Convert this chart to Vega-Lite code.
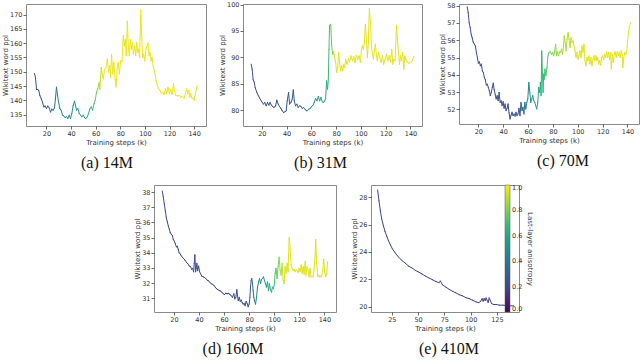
{
  "$schema": "https://vega.github.io/schema/vega-lite/v6.json",
  "background": "white",
  "padding": {"left": 0, "top": 1, "right": 0, "bottom": 0},
  "datasets": {
    "A": [
      {"s":10.2,"p":149.4,"a":0.25},{"s":11.0,"p":148.1,"a":0.25},{"s":11.9,"p":143.8,"a":0.25},{"s":12.9,"p":143.8,"a":0.25},{"s":13.8,"p":143.3,"a":0.25},{"s":14.6,"p":141.7,"a":0.25},{"s":15.7,"p":140.6,"a":0.25},{"s":16.7,"p":139.4,"a":0.26},{"s":17.8,"p":137.7,"a":0.26},{"s":18.9,"p":138.0,"a":0.26},{"s":20.0,"p":137.1,"a":0.27},{"s":21.1,"p":138.0,"a":0.27},{"s":22.2,"p":137.3,"a":0.28},{"s":23.3,"p":135.9,"a":0.28},{"s":24.3,"p":136.9,"a":0.3},{"s":25.4,"p":136.5,"a":0.32},{"s":26.5,"p":137.3,"a":0.35},{"s":27.3,"p":140.6,"a":0.38},{"s":28.1,"p":144.6,"a":0.4},{"s":29.0,"p":141.7,"a":0.42},{"s":29.8,"p":139.4,"a":0.43},{"s":30.9,"p":137.1,"a":0.45},{"s":31.9,"p":136.5,"a":0.46},{"s":33.0,"p":134.8,"a":0.47},{"s":34.1,"p":134.5,"a":0.47},{"s":35.2,"p":133.9,"a":0.48},{"s":36.3,"p":134.4,"a":0.48},{"s":37.4,"p":133.6,"a":0.49},{"s":38.5,"p":134.8,"a":0.49},{"s":39.5,"p":133.6,"a":0.5},{"s":40.6,"p":135.4,"a":0.5},{"s":41.7,"p":138.2,"a":0.5},{"s":42.8,"p":139.7,"a":0.5},{"s":43.6,"p":138.2,"a":0.5},{"s":44.4,"p":136.5,"a":0.52},{"s":45.5,"p":137.1,"a":0.52},{"s":46.6,"p":135.4,"a":0.53},{"s":47.7,"p":134.8,"a":0.54},{"s":48.8,"p":134.2,"a":0.55},{"s":49.9,"p":134.8,"a":0.56},{"s":51.0,"p":133.9,"a":0.57},{"s":52.0,"p":133.6,"a":0.58},{"s":53.1,"p":134.2,"a":0.59},{"s":54.2,"p":135.4,"a":0.6},{"s":55.3,"p":137.1,"a":0.62},{"s":56.4,"p":137.7,"a":0.65},{"s":57.5,"p":136.5,"a":0.68},{"s":58.6,"p":138.8,"a":0.72},{"s":59.6,"p":140.0,"a":0.76},{"s":60.7,"p":142.9,"a":0.8},{"s":61.8,"p":144.2,"a":0.85},{"s":62.9,"p":146.3,"a":0.9},{"s":63.4,"p":143.8,"a":0.92},{"s":64.5,"p":151.5,"a":0.94},{"s":65.3,"p":149.2,"a":0.95},
      {"s":66.2,"p":147.5,"a":0.97},{"s":67.2,"p":150.9,"a":0.97},{"s":68.3,"p":151.5,"a":0.97},{"s":69.4,"p":154.4,"a":0.97},{"s":70.5,"p":149.8,"a":0.97},{"s":71.3,"p":152.1,"a":0.97},{"s":72.1,"p":148.1,"a":0.97},{"s":72.9,"p":156.1,"a":0.97},{"s":73.8,"p":149.2,"a":0.97},{"s":74.8,"p":153.3,"a":0.97},{"s":75.7,"p":147.5,"a":0.97},{"s":76.5,"p":144.6,"a":0.97},{"s":77.6,"p":151.5,"a":0.97},{"s":78.4,"p":153.3,"a":0.97},{"s":79.2,"p":149.2,"a":0.97},{"s":80.3,"p":153.8,"a":0.97},{"s":81.4,"p":153.5,"a":0.97},{"s":82.4,"p":162.7,"a":0.97},{"s":83.3,"p":159.0,"a":0.97},{"s":84.1,"p":161.3,"a":0.97},{"s":84.9,"p":155.6,"a":0.97},{"s":85.7,"p":167.7,"a":0.97},{"s":86.5,"p":159.0,"a":0.97},{"s":87.3,"p":155.6,"a":0.97},{"s":88.1,"p":161.3,"a":0.97},{"s":89.0,"p":157.9,"a":0.97},{"s":89.8,"p":160.2,"a":0.97},{"s":90.6,"p":156.1,"a":0.97},{"s":91.7,"p":159.0,"a":0.97},{"s":92.5,"p":155.6,"a":0.97},{"s":93.3,"p":160.2,"a":0.97},{"s":94.1,"p":156.7,"a":0.97},{"s":94.9,"p":157.9,"a":0.97},{"s":95.7,"p":155.0,"a":0.97},{"s":96.6,"p":171.7,"a":0.97},{"s":97.4,"p":162.5,"a":0.97},{"s":98.2,"p":155.0,"a":0.97},{"s":99.0,"p":156.1,"a":0.97},{"s":99.8,"p":153.8,"a":0.97},{"s":100.9,"p":157.9,"a":0.97},{"s":101.7,"p":159.0,"a":0.97},{"s":102.5,"p":160.0,"a":0.97},{"s":103.3,"p":155.6,"a":0.97},{"s":104.2,"p":156.7,"a":0.97},{"s":105.0,"p":153.8,"a":0.97},{"s":105.8,"p":155.0,"a":0.97},{"s":106.6,"p":152.1,"a":0.97},{"s":107.4,"p":150.9,"a":0.97},{"s":108.2,"p":149.2,"a":0.97},{"s":109.1,"p":146.9,"a":0.97},{"s":110.1,"p":145.2,"a":0.97},{"s":111.2,"p":144.0,"a":0.97},{"s":112.3,"p":143.4,"a":0.97},{"s":113.4,"p":142.3,"a":0.97},{"s":114.5,"p":142.9,"a":0.97},{"s":115.6,"p":142.0,"a":0.97},{"s":116.7,"p":144.0,"a":0.97},{"s":117.7,"p":142.3,"a":0.97},{"s":118.8,"p":144.6,"a":0.97},{"s":119.9,"p":142.3,"a":0.97},{"s":121.0,"p":143.8,"a":0.97},{"s":122.1,"p":142.0,"a":0.97},{"s":123.2,"p":145.8,"a":0.97},{"s":124.0,"p":143.4,"a":0.97},{"s":125.1,"p":141.7,"a":0.97},{"s":126.4,"p":141.5,"a":0.97},{"s":127.8,"p":141.7,"a":0.97},{"s":129.1,"p":141.1,"a":0.97},{"s":130.5,"p":141.4,"a":0.97},{"s":131.9,"p":140.8,"a":0.97},{"s":133.2,"p":142.9,"a":0.97},{"s":134.0,"p":144.0,"a":0.97},{"s":134.8,"p":142.3,"a":0.97},{"s":135.7,"p":143.4,"a":0.97},{"s":136.5,"p":141.1,"a":0.97},{"s":137.3,"p":142.3,"a":0.97},{"s":138.1,"p":140.8,"a":0.97},{"s":139.2,"p":140.6,"a":0.97},{"s":140.0,"p":140.0,"a":0.97},{"s":141.1,"p":142.3,"a":0.97},{"s":142.2,"p":144.6,"a":0.97},{"s":143.0,"p":145.2,"a":0.97}
    ],
    "B": [
      {"s":11.4,"p":88.70,"a":0.25},{"s":12.2,"p":87.75,"a":0.25},{"s":13.0,"p":85.74,"a":0.25},{"s":13.8,"p":85.36,"a":0.25},{"s":14.6,"p":84.29,"a":0.25},{"s":16.0,"p":83.34,"a":0.25},{"s":17.3,"p":82.71,"a":0.25},{"s":18.7,"p":82.08,"a":0.25},{"s":20.0,"p":81.58,"a":0.25},{"s":21.3,"p":81.14,"a":0.25},{"s":22.4,"p":81.45,"a":0.25},{"s":23.5,"p":80.82,"a":0.25},{"s":24.6,"p":81.45,"a":0.25},{"s":25.7,"p":80.95,"a":0.25},{"s":26.7,"p":81.45,"a":0.25},{"s":27.8,"p":80.95,"a":0.25},{"s":28.9,"p":80.63,"a":0.25},{"s":30.0,"p":80.51,"a":0.25},{"s":31.1,"p":80.82,"a":0.25},{"s":32.1,"p":81.89,"a":0.25},{"s":33.2,"p":81.14,"a":0.25},{"s":34.3,"p":80.70,"a":0.25},{"s":35.4,"p":80.32,"a":0.25},{"s":36.5,"p":79.88,"a":0.25},{"s":37.5,"p":79.56,"a":0.25},{"s":38.6,"p":79.69,"a":0.26},{"s":39.7,"p":79.88,"a":0.26},{"s":40.5,"p":81.77,"a":0.27},{"s":41.6,"p":83.34,"a":0.27},{"s":42.4,"p":81.14,"a":0.27},{"s":43.5,"p":81.45,"a":0.28},{"s":44.5,"p":82.08,"a":0.28},{"s":45.4,"p":83.85,"a":0.28},{"s":46.2,"p":81.77,"a":0.29},{"s":47.2,"p":80.82,"a":0.3},{"s":48.3,"p":81.14,"a":0.31},{"s":49.4,"p":80.51,"a":0.32},{"s":50.5,"p":80.82,"a":0.33},{"s":51.6,"p":80.70,"a":0.34},{"s":52.6,"p":80.32,"a":0.35},{"s":53.7,"p":80.51,"a":0.36},{"s":55.1,"p":80.07,"a":0.38},{"s":56.4,"p":79.88,"a":0.4},{"s":57.8,"p":80.19,"a":0.42},{"s":59.1,"p":80.32,"a":0.44},{"s":60.2,"p":80.70,"a":0.46},{"s":61.3,"p":80.95,"a":0.48},{"s":62.3,"p":81.45,"a":0.5},{"s":63.4,"p":82.21,"a":0.52},{"s":64.5,"p":81.77,"a":0.54},{"s":65.6,"p":82.59,"a":0.55},{"s":66.7,"p":81.77,"a":0.56},{"s":67.7,"p":82.40,"a":0.57},{"s":68.8,"p":81.58,"a":0.58},{"s":69.9,"p":81.45,"a":0.59},{"s":70.7,"p":81.77,"a":0.6},{"s":71.5,"p":82.21,"a":0.61},{"s":72.3,"p":85.55,"a":0.63},{"s":73.1,"p":83.97,"a":0.65},{"s":73.7,"p":85.86,"a":0.67},{"s":74.2,"p":91.53,"a":0.7},{"s":74.7,"p":96.07,"a":0.73},{"s":75.6,"p":96.26,"a":0.76},{"s":76.4,"p":92.16,"a":0.8},{"s":77.2,"p":90.59,"a":0.85},{"s":78.0,"p":91.03,"a":0.9},
      {"s":78.8,"p":89.96,"a":0.95},{"s":79.6,"p":89.01,"a":0.96},{"s":80.4,"p":87.12,"a":0.96},{"s":81.2,"p":88.07,"a":0.96},{"s":82.0,"p":90.90,"a":0.96},{"s":82.8,"p":89.01,"a":0.96},{"s":83.6,"p":87.44,"a":0.96},{"s":84.5,"p":88.38,"a":0.96},{"s":85.3,"p":87.44,"a":0.96},{"s":86.1,"p":88.70,"a":0.96},{"s":86.9,"p":88.07,"a":0.96},{"s":87.7,"p":89.64,"a":0.96},{"s":88.8,"p":88.70,"a":0.96},{"s":89.9,"p":89.77,"a":0.96},{"s":90.9,"p":89.14,"a":0.96},{"s":92.0,"p":90.27,"a":0.96},{"s":93.1,"p":89.33,"a":0.96},{"s":94.2,"p":90.15,"a":0.96},{"s":95.2,"p":89.01,"a":0.96},{"s":96.3,"p":90.40,"a":0.96},{"s":97.4,"p":89.64,"a":0.96},{"s":98.5,"p":90.27,"a":0.96},{"s":99.6,"p":89.01,"a":0.96},{"s":100.4,"p":91.53,"a":0.96},{"s":101.2,"p":92.16,"a":0.96},{"s":102.0,"p":91.53,"a":0.96},{"s":102.8,"p":92.79,"a":0.96},{"s":103.6,"p":96.26,"a":0.96},{"s":104.4,"p":93.42,"a":0.96},{"s":105.2,"p":89.96,"a":0.96},{"s":106.0,"p":92.79,"a":0.96},{"s":106.8,"p":99.22,"a":0.96},{"s":107.7,"p":96.58,"a":0.96},{"s":108.5,"p":92.16,"a":0.96},{"s":109.3,"p":90.59,"a":0.96},{"s":110.1,"p":89.64,"a":0.96},{"s":110.9,"p":91.22,"a":0.96},{"s":111.7,"p":92.48,"a":0.96},{"s":112.5,"p":90.27,"a":0.96},{"s":113.3,"p":89.33,"a":0.96},{"s":114.1,"p":90.90,"a":0.96},{"s":115.2,"p":89.96,"a":0.96},{"s":116.3,"p":89.01,"a":0.96},{"s":117.4,"p":90.27,"a":0.96},{"s":118.4,"p":88.70,"a":0.96},{"s":119.5,"p":89.64,"a":0.96},{"s":120.6,"p":90.59,"a":0.96},{"s":121.7,"p":89.33,"a":0.96},{"s":122.8,"p":90.27,"a":0.96},{"s":123.8,"p":89.14,"a":0.96},{"s":124.9,"p":91.53,"a":0.96},{"s":125.7,"p":88.70,"a":0.96},{"s":126.5,"p":89.64,"a":0.96},{"s":127.6,"p":89.33,"a":0.96},{"s":128.7,"p":96.07,"a":0.96},{"s":129.5,"p":93.42,"a":0.96},{"s":130.3,"p":90.90,"a":0.96},{"s":131.1,"p":88.70,"a":0.96},{"s":131.9,"p":90.27,"a":0.96},{"s":132.7,"p":89.33,"a":0.96},{"s":133.8,"p":90.90,"a":0.96},{"s":134.6,"p":87.75,"a":0.96},{"s":135.4,"p":90.27,"a":0.96},{"s":136.2,"p":89.64,"a":0.96},{"s":137.3,"p":89.14,"a":0.96},{"s":138.7,"p":88.89,"a":0.96},{"s":140.0,"p":89.01,"a":0.96},{"s":141.4,"p":89.33,"a":0.96},{"s":142.7,"p":90.15,"a":0.96}
    ],
    "C": [
      {"s":11.0,"p":57.94,"a":0.23},{"s":11.8,"p":57.60,"a":0.23},{"s":12.6,"p":57.02,"a":0.23},{"s":13.4,"p":56.73,"a":0.23},{"s":14.2,"p":56.35,"a":0.23},{"s":15.0,"p":56.15,"a":0.23},{"s":15.8,"p":55.90,"a":0.23},{"s":16.8,"p":55.77,"a":0.23},{"s":17.6,"p":55.67,"a":0.23},{"s":18.4,"p":55.29,"a":0.23},{"s":19.2,"p":55.00,"a":0.23},{"s":20.0,"p":54.67,"a":0.23},{"s":20.8,"p":54.75,"a":0.23},{"s":21.6,"p":54.52,"a":0.23},{"s":22.4,"p":54.62,"a":0.23},{"s":23.2,"p":54.23,"a":0.23},{"s":24.0,"p":54.13,"a":0.23},{"s":24.8,"p":53.85,"a":0.23},{"s":25.6,"p":53.71,"a":0.23},{"s":26.4,"p":53.40,"a":0.23},{"s":27.2,"p":53.46,"a":0.23},{"s":28.0,"p":53.27,"a":0.23},{"s":28.8,"p":53.08,"a":0.23},{"s":29.6,"p":52.79,"a":0.23},{"s":30.4,"p":52.98,"a":0.23},{"s":31.2,"p":53.27,"a":0.23},{"s":32.0,"p":53.52,"a":0.23},{"s":32.7,"p":53.13,"a":0.23},{"s":33.5,"p":52.88,"a":0.23},{"s":34.3,"p":52.60,"a":0.23},{"s":35.1,"p":52.79,"a":0.23},{"s":35.9,"p":52.50,"a":0.23},{"s":36.7,"p":52.98,"a":0.23},{"s":37.5,"p":52.40,"a":0.23},{"s":38.3,"p":52.50,"a":0.23},{"s":39.1,"p":52.21,"a":0.23},{"s":39.9,"p":52.44,"a":0.23},{"s":40.7,"p":52.06,"a":0.23},{"s":41.5,"p":52.31,"a":0.23},{"s":42.3,"p":51.92,"a":0.23},{"s":43.1,"p":52.06,"a":0.23},{"s":43.9,"p":52.31,"a":0.23},{"s":44.7,"p":51.79,"a":0.23},{"s":45.5,"p":51.44,"a":0.23},{"s":46.3,"p":51.67,"a":0.23},{"s":47.1,"p":51.83,"a":0.23},{"s":47.9,"p":51.63,"a":0.23},{"s":48.7,"p":51.73,"a":0.23},{"s":49.5,"p":51.60,"a":0.23},{"s":50.3,"p":51.83,"a":0.24},{"s":51.1,"p":51.63,"a":0.24},{"s":51.9,"p":51.73,"a":0.25},{"s":52.7,"p":52.06,"a":0.26},{"s":53.5,"p":51.63,"a":0.28},{"s":54.3,"p":52.40,"a":0.3},{"s":55.1,"p":51.92,"a":0.33},{"s":55.9,"p":52.12,"a":0.36},{"s":56.7,"p":51.73,"a":0.38},{"s":57.4,"p":52.40,"a":0.4},{"s":58.2,"p":52.02,"a":0.42},{"s":59.0,"p":52.40,"a":0.44},{"s":59.8,"p":52.60,"a":0.46},{"s":60.6,"p":53.56,"a":0.48},{"s":61.4,"p":52.98,"a":0.5},{"s":62.2,"p":52.40,"a":0.52},{"s":63.0,"p":52.60,"a":0.54},{"s":63.8,"p":52.79,"a":0.55},{"s":64.6,"p":52.50,"a":0.56},{"s":65.4,"p":52.40,"a":0.57},{"s":66.2,"p":52.21,"a":0.58},{"s":67.0,"p":52.02,"a":0.59},{"s":67.8,"p":52.40,"a":0.6},{"s":68.6,"p":53.27,"a":0.61},{"s":69.4,"p":52.98,"a":0.62},{"s":69.9,"p":53.56,"a":0.63},{"s":70.5,"p":52.79,"a":0.64},{"s":71.0,"p":55.38,"a":0.65},{"s":71.5,"p":54.13,"a":0.66},{"s":72.1,"p":52.98,"a":0.67},{"s":72.6,"p":54.04,"a":0.68},{"s":73.1,"p":53.75,"a":0.69},{"s":73.6,"p":54.33,"a":0.7},{"s":74.4,"p":53.94,"a":0.72},{"s":75.2,"p":54.42,"a":0.74},{"s":76.0,"p":55.10,"a":0.76},{"s":76.8,"p":55.29,"a":0.77},{"s":77.9,"p":55.33,"a":0.78},{"s":79.0,"p":55.19,"a":0.79},{"s":79.8,"p":55.29,"a":0.8},{"s":80.6,"p":55.10,"a":0.81},{"s":81.4,"p":55.33,"a":0.82},{"s":82.2,"p":55.77,"a":0.83},{"s":82.9,"p":55.10,"a":0.84},{"s":83.7,"p":55.33,"a":0.85},{"s":84.5,"p":55.10,"a":0.85},{"s":85.3,"p":55.33,"a":0.86},{"s":86.1,"p":55.29,"a":0.86},{"s":86.9,"p":55.48,"a":0.87},{"s":87.7,"p":55.19,"a":0.87},{"s":88.5,"p":55.67,"a":0.88},{"s":89.1,"p":56.25,"a":0.88},{"s":89.9,"p":55.87,"a":0.88},{"s":90.6,"p":55.38,"a":0.89},{"s":91.4,"p":56.06,"a":0.89},{"s":92.2,"p":56.44,"a":0.89},{"s":93.0,"p":56.06,"a":0.9},{"s":93.8,"p":55.58,"a":0.9},{"s":94.6,"p":56.15,"a":0.91},{"s":95.4,"p":55.87,"a":0.92},{"s":96.2,"p":55.96,"a":0.93},{"s":97.0,"p":55.67,"a":0.94},{"s":97.8,"p":55.38,"a":0.95},
      {"s":98.6,"p":55.00,"a":0.96},{"s":99.4,"p":55.29,"a":0.96},{"s":100.2,"p":54.90,"a":0.96},{"s":101.0,"p":55.10,"a":0.96},{"s":101.8,"p":55.38,"a":0.96},{"s":102.6,"p":55.00,"a":0.96},{"s":103.4,"p":55.67,"a":0.96},{"s":104.2,"p":55.29,"a":0.96},{"s":105.0,"p":55.77,"a":0.96},{"s":105.8,"p":54.81,"a":0.96},{"s":106.6,"p":54.52,"a":0.96},{"s":107.4,"p":55.00,"a":0.96},{"s":108.2,"p":54.81,"a":0.96},{"s":109.0,"p":55.10,"a":0.96},{"s":109.8,"p":54.62,"a":0.96},{"s":110.6,"p":55.00,"a":0.96},{"s":111.4,"p":54.52,"a":0.96},{"s":112.2,"p":54.90,"a":0.96},{"s":113.0,"p":55.10,"a":0.96},{"s":113.8,"p":54.81,"a":0.96},{"s":114.6,"p":55.10,"a":0.96},{"s":115.4,"p":54.81,"a":0.96},{"s":116.1,"p":55.00,"a":0.96},{"s":116.9,"p":54.62,"a":0.96},{"s":117.7,"p":54.81,"a":0.96},{"s":118.5,"p":54.56,"a":0.96},{"s":119.3,"p":55.00,"a":0.96},{"s":120.1,"p":55.10,"a":0.96},{"s":120.9,"p":54.90,"a":0.96},{"s":121.7,"p":55.19,"a":0.96},{"s":122.5,"p":55.00,"a":0.96},{"s":123.3,"p":55.33,"a":0.96},{"s":124.1,"p":55.00,"a":0.96},{"s":124.9,"p":55.29,"a":0.96},{"s":125.7,"p":54.87,"a":0.96},{"s":126.5,"p":55.29,"a":0.96},{"s":127.0,"p":54.33,"a":0.96},{"s":127.8,"p":55.19,"a":0.96},{"s":128.6,"p":54.71,"a":0.96},{"s":129.4,"p":55.19,"a":0.96},{"s":130.2,"p":55.33,"a":0.96},{"s":131.0,"p":55.00,"a":0.96},{"s":131.8,"p":55.33,"a":0.96},{"s":132.6,"p":55.10,"a":0.96},{"s":133.4,"p":55.29,"a":0.96},{"s":134.2,"p":55.00,"a":0.96},{"s":135.0,"p":55.38,"a":0.96},{"s":135.8,"p":55.19,"a":0.96},{"s":136.3,"p":54.42,"a":0.96},{"s":137.1,"p":55.00,"a":0.96},{"s":137.9,"p":55.29,"a":0.96},{"s":138.7,"p":55.19,"a":0.96},{"s":139.5,"p":55.38,"a":0.96},{"s":140.0,"p":55.87,"a":0.96},{"s":140.8,"p":56.44,"a":0.96},{"s":141.6,"p":56.83,"a":0.96},{"s":142.7,"p":57.02,"a":0.96}
    ],
    "D": [
      {"s":10.7,"p":38.07,"a":0.23},{"s":11.5,"p":37.69,"a":0.23},{"s":12.3,"p":37.24,"a":0.23},{"s":13.1,"p":36.79,"a":0.23},{"s":13.9,"p":36.34,"a":0.23},{"s":14.7,"p":36.05,"a":0.23},{"s":15.5,"p":35.78,"a":0.23},{"s":16.3,"p":35.56,"a":0.23},{"s":17.1,"p":35.33,"a":0.23},{"s":17.9,"p":35.22,"a":0.23},{"s":18.7,"p":35.15,"a":0.23},{"s":19.5,"p":34.88,"a":0.23},{"s":20.3,"p":34.77,"a":0.23},{"s":21.1,"p":34.61,"a":0.23},{"s":21.9,"p":34.39,"a":0.23},{"s":22.7,"p":34.43,"a":0.23},{"s":23.5,"p":34.21,"a":0.23},{"s":24.2,"p":33.99,"a":0.23},{"s":25.0,"p":33.94,"a":0.23},{"s":25.8,"p":33.81,"a":0.23},{"s":26.6,"p":33.72,"a":0.23},{"s":27.4,"p":33.65,"a":0.23},{"s":28.2,"p":33.58,"a":0.23},{"s":29.0,"p":33.49,"a":0.23},{"s":30.1,"p":33.36,"a":0.23},{"s":31.2,"p":33.27,"a":0.23},{"s":32.2,"p":33.13,"a":0.23},{"s":33.3,"p":33.09,"a":0.23},{"s":34.1,"p":32.91,"a":0.23},{"s":34.9,"p":32.98,"a":0.23},{"s":35.7,"p":32.75,"a":0.23},{"s":36.2,"p":33.31,"a":0.23},{"s":36.7,"p":33.87,"a":0.23},{"s":37.3,"p":32.75,"a":0.23},{"s":37.8,"p":32.98,"a":0.23},{"s":38.3,"p":33.31,"a":0.23},{"s":38.9,"p":32.82,"a":0.23},{"s":39.7,"p":33.13,"a":0.23},{"s":40.5,"p":32.75,"a":0.23},{"s":41.2,"p":32.64,"a":0.23},{"s":42.3,"p":32.46,"a":0.23},{"s":43.4,"p":32.42,"a":0.23},{"s":44.4,"p":32.37,"a":0.23},{"s":45.5,"p":32.30,"a":0.23},{"s":46.6,"p":32.19,"a":0.23},{"s":47.6,"p":32.15,"a":0.23},{"s":48.7,"p":32.06,"a":0.23},{"s":49.7,"p":31.97,"a":0.23},{"s":50.8,"p":31.92,"a":0.23},{"s":51.9,"p":31.86,"a":0.23},{"s":52.9,"p":31.74,"a":0.23},{"s":54.0,"p":31.63,"a":0.23},{"s":55.1,"p":31.57,"a":0.23},{"s":56.1,"p":31.52,"a":0.23},{"s":57.2,"p":31.48,"a":0.23},{"s":58.2,"p":31.41,"a":0.23},{"s":59.3,"p":31.30,"a":0.23},{"s":60.4,"p":31.25,"a":0.23},{"s":61.4,"p":31.34,"a":0.23},{"s":62.5,"p":31.30,"a":0.23},{"s":63.6,"p":31.34,"a":0.23},{"s":64.6,"p":31.25,"a":0.23},{"s":65.7,"p":31.18,"a":0.23},{"s":66.7,"p":31.07,"a":0.23},{"s":67.8,"p":31.30,"a":0.23},{"s":68.6,"p":30.96,"a":0.23},{"s":69.4,"p":31.07,"a":0.23},{"s":70.2,"p":31.57,"a":0.23},{"s":70.7,"p":31.18,"a":0.23},{"s":71.3,"p":30.85,"a":0.23},{"s":72.1,"p":31.07,"a":0.23},{"s":72.9,"p":30.80,"a":0.23},{"s":73.7,"p":30.89,"a":0.23},{"s":74.4,"p":30.74,"a":0.23},{"s":75.2,"p":30.62,"a":0.23},{"s":76.0,"p":30.67,"a":0.23},{"s":76.8,"p":30.51,"a":0.23},{"s":77.6,"p":30.80,"a":0.23},{"s":78.4,"p":30.67,"a":0.23},{"s":79.2,"p":30.44,"a":0.23},{"s":80.0,"p":30.62,"a":0.24},{"s":80.6,"p":31.07,"a":0.26},{"s":81.1,"p":31.74,"a":0.28},{"s":81.6,"p":32.19,"a":0.3},{"s":82.1,"p":32.30,"a":0.32},{"s":82.7,"p":31.97,"a":0.34},{"s":83.2,"p":31.52,"a":0.36},{"s":83.7,"p":31.07,"a":0.38},{"s":84.3,"p":30.85,"a":0.4},{"s":85.1,"p":30.62,"a":0.42},{"s":85.9,"p":31.07,"a":0.44},{"s":86.7,"p":31.74,"a":0.46},{"s":87.5,"p":32.08,"a":0.48},{"s":88.3,"p":32.30,"a":0.5},{"s":89.1,"p":31.97,"a":0.52},{"s":89.9,"p":32.24,"a":0.53},{"s":90.6,"p":32.30,"a":0.54},{"s":91.4,"p":32.42,"a":0.55},{"s":92.2,"p":32.19,"a":0.56},{"s":93.0,"p":31.97,"a":0.57},{"s":93.8,"p":31.74,"a":0.58},{"s":94.6,"p":32.08,"a":0.59},{"s":95.4,"p":31.52,"a":0.6},{"s":96.2,"p":31.97,"a":0.61},{"s":97.0,"p":31.57,"a":0.62},{"s":97.8,"p":31.41,"a":0.64},{"s":98.6,"p":31.74,"a":0.66},{"s":99.4,"p":31.63,"a":0.68},{"s":100.2,"p":31.97,"a":0.7},{"s":100.7,"p":32.64,"a":0.72},{"s":101.5,"p":32.98,"a":0.75},{"s":102.3,"p":32.30,"a":0.78},{"s":103.1,"p":33.09,"a":0.81},{"s":103.9,"p":33.72,"a":0.84},{"s":104.7,"p":32.87,"a":0.87},{"s":105.5,"p":32.53,"a":0.89},{"s":106.3,"p":33.31,"a":0.91},{"s":107.1,"p":32.19,"a":0.93},{"s":107.9,"p":31.97,"a":0.94},
      {"s":108.7,"p":33.09,"a":0.95},{"s":109.5,"p":32.64,"a":0.95},{"s":110.3,"p":33.31,"a":0.95},{"s":111.1,"p":32.75,"a":0.95},{"s":111.9,"p":35.00,"a":0.95},{"s":112.7,"p":34.32,"a":0.95},{"s":113.5,"p":33.20,"a":0.95},{"s":114.3,"p":32.98,"a":0.95},{"s":115.1,"p":32.82,"a":0.95},{"s":115.9,"p":32.91,"a":0.95},{"s":116.7,"p":32.75,"a":0.95},{"s":117.5,"p":32.87,"a":0.95},{"s":118.3,"p":32.82,"a":0.95},{"s":119.1,"p":32.69,"a":0.95},{"s":119.9,"p":32.98,"a":0.95},{"s":120.7,"p":32.75,"a":0.95},{"s":121.5,"p":33.20,"a":0.95},{"s":122.3,"p":32.64,"a":0.95},{"s":123.1,"p":33.09,"a":0.95},{"s":123.9,"p":32.60,"a":0.95},{"s":124.7,"p":33.43,"a":0.95},{"s":125.4,"p":32.53,"a":0.95},{"s":126.2,"p":33.09,"a":0.95},{"s":127.0,"p":32.87,"a":0.95},{"s":127.8,"p":32.42,"a":0.95},{"s":128.6,"p":32.98,"a":0.95},{"s":129.4,"p":32.42,"a":0.95},{"s":130.2,"p":32.46,"a":0.95},{"s":131.0,"p":32.42,"a":0.95},{"s":131.8,"p":32.87,"a":0.95},{"s":132.6,"p":33.76,"a":0.95},{"s":133.1,"p":34.88,"a":0.95},{"s":133.9,"p":33.31,"a":0.95},{"s":134.7,"p":32.42,"a":0.95},{"s":135.5,"p":32.53,"a":0.95},{"s":136.3,"p":32.42,"a":0.95},{"s":137.1,"p":32.46,"a":0.95},{"s":137.9,"p":32.42,"a":0.95},{"s":138.7,"p":32.87,"a":0.95},{"s":139.5,"p":33.58,"a":0.95},{"s":140.3,"p":32.75,"a":0.95},{"s":141.1,"p":32.42,"a":0.95},{"s":141.9,"p":32.64,"a":0.95},{"s":142.7,"p":33.43,"a":0.95}
    ],
    "E": [
      {"s":11.5,"p":28.54,"a":0.2},{"s":12.8,"p":27.74,"a":0.2},{"s":14.1,"p":27.01,"a":0.2},{"s":15.4,"p":26.41,"a":0.2},{"s":17.0,"p":25.92,"a":0.2},{"s":18.6,"p":25.49,"a":0.2},{"s":20.2,"p":25.15,"a":0.2},{"s":21.8,"p":24.83,"a":0.2},{"s":23.7,"p":24.51,"a":0.2},{"s":25.6,"p":24.22,"a":0.2},{"s":28.2,"p":23.93,"a":0.2},{"s":31.4,"p":23.62,"a":0.2},{"s":34.6,"p":23.37,"a":0.2},{"s":37.8,"p":23.18,"a":0.2},{"s":41.0,"p":22.96,"a":0.2},{"s":44.2,"p":22.82,"a":0.2},{"s":47.4,"p":22.65,"a":0.2},{"s":50.6,"p":22.52,"a":0.2},{"s":53.8,"p":22.38,"a":0.2},{"s":57.0,"p":22.23,"a":0.2},{"s":60.3,"p":22.09,"a":0.2},{"s":63.5,"p":21.97,"a":0.2},{"s":66.7,"p":21.84,"a":0.2},{"s":69.9,"p":21.75,"a":0.2},{"s":71.2,"p":21.87,"a":0.2},{"s":73.1,"p":21.60,"a":0.2},{"s":76.3,"p":21.43,"a":0.2},{"s":79.5,"p":21.26,"a":0.2},{"s":82.7,"p":21.12,"a":0.2},{"s":85.9,"p":21.00,"a":0.2},{"s":89.1,"p":20.87,"a":0.2},{"s":92.3,"p":20.78,"a":0.2},{"s":95.5,"p":20.65,"a":0.2},{"s":98.7,"p":20.58,"a":0.2},{"s":101.9,"p":20.46,"a":0.2},{"s":105.1,"p":20.34,"a":0.2},{"s":107.7,"p":20.29,"a":0.2},{"s":109.6,"p":20.39,"a":0.2},{"s":110.9,"p":20.58,"a":0.2},{"s":111.9,"p":20.39,"a":0.2},{"s":112.8,"p":20.58,"a":0.2},{"s":113.8,"p":20.44,"a":0.2},{"s":114.7,"p":20.63,"a":0.2},{"s":115.7,"p":20.46,"a":0.2},{"s":116.7,"p":20.29,"a":0.2},{"s":117.6,"p":20.63,"a":0.2},{"s":118.6,"p":20.46,"a":0.2},{"s":119.9,"p":20.22,"a":0.2},{"s":121.8,"p":20.15,"a":0.2},{"s":124.4,"p":20.15,"a":0.2},{"s":127.6,"p":20.10,"a":0.2},{"s":130.8,"p":20.10,"a":0.2},{"s":134.0,"p":20.07,"a":0.2},{"s":137.2,"p":20.05,"a":0.2},{"s":141.0,"p":20.05,"a":0.2}
    ]
  },
  "config": {
    "view": {"stroke": "#8a8a8a", "strokeWidth": 1},
    "font": "DejaVu Sans",
    "axis": {"grid": false, "domain": false, "tickSize": 3, "tickColor": "#444", "tickWidth": 0.8, "labelFont": "DejaVu Sans", "labelFontSize": 6.5, "labelColor": "#333", "labelPadding": 1, "titleFont": "DejaVu Sans", "titleFontSize": 7, "titleFontWeight": "normal", "titleColor": "#333", "titlePadding": 1.5},
    "title": {"font": "Liberation Serif", "fontSize": 16, "fontWeight": "normal", "color": "#111", "orient": "bottom", "offset": 10, "frame": "group"},
    "legend": {"direction": "vertical", "gradientLength": 127, "gradientThickness": 5, "gradientStrokeColor": "#555", "gradientStrokeWidth": 0.5, "labelFont": "DejaVu Sans", "labelFontSize": 6.5, "labelColor": "#333", "labelOffset": 7, "titleFont": "DejaVu Sans", "titleFontSize": 7, "titleFontWeight": "normal", "titleColor": "#333", "titleOrient": "right", "titleAnchor": "middle", "titleAngle": 270}
  },
  "spacing": 12,
  "resolve": {"legend": {"color": "independent"}},
  "vconcat": [
    {
      "spacing": 37,
      "bounds": "flush",
      "resolve": {"legend": {"color": "independent"}},
      "hconcat": [
        {
          "width": 180, "height": 122,
          "title": {"text": "(a) 14M", "dx": -9},
          "data": {"name": "A"},
          "transform": [{"window": [{"op": "lead", "field": "s", "as": "s2"}, {"op": "lead", "field": "p", "as": "p2"}], "sort": [{"field": "s", "order": "ascending"}]}, {"filter": "isValid(datum.s2)"}],
          "mark": {"type": "rule", "strokeWidth": 1, "strokeCap": "round"},
          "encoding": {
            "x": {"field": "s", "type": "quantitative", "title": "Training steps (k)", "scale": {"domain": [3.35, 149.65], "nice": false, "zero": false}, "axis": {"values": [20, 40, 60, 80, 100, 120, 140]}},
            "x2": {"field": "s2"},
            "y": {"field": "p", "type": "quantitative", "title": "Wikitext word ppl", "scale": {"domain": [131, 173.7], "nice": false, "zero": false}, "axis": {"values": [135, 140, 145, 150, 155, 160, 165, 170]}},
            "y2": {"field": "p2"},
            "color": {"field": "a", "type": "quantitative", "title": "Last-layer anisotropy", "scale": {"scheme": "viridis", "domain": [0, 1]}, "legend": null}
          }
        },
        {
          "width": 179, "height": 122,
          "title": {"text": "(b) 31M", "dx": -12},
          "data": {"name": "B"},
          "transform": [{"window": [{"op": "lead", "field": "s", "as": "s2"}, {"op": "lead", "field": "p", "as": "p2"}], "sort": [{"field": "s", "order": "ascending"}]}, {"filter": "isValid(datum.s2)"}],
          "mark": {"type": "rule", "strokeWidth": 1, "strokeCap": "round"},
          "encoding": {
            "x": {"field": "s", "type": "quantitative", "title": "Training steps (k)", "scale": {"domain": [4.8, 149.3], "nice": false, "zero": false}, "axis": {"values": [20, 40, 60, 80, 100, 120, 140]}},
            "x2": {"field": "s2"},
            "y": {"field": "p", "type": "quantitative", "title": "Wikitext word ppl", "scale": {"domain": [77, 100.1], "nice": false, "zero": false}, "axis": {"values": [80, 85, 90, 95, 100]}},
            "y2": {"field": "p2"},
            "color": {"field": "a", "type": "quantitative", "title": "Last-layer anisotropy", "scale": {"scheme": "viridis", "domain": [0, 1]}, "legend": null}
          }
        },
        {
          "width": 180, "height": 120,
          "title": {"text": "(c) 70M", "dx": 14},
          "data": {"name": "C"},
          "transform": [{"window": [{"op": "lead", "field": "s", "as": "s2"}, {"op": "lead", "field": "p", "as": "p2"}], "sort": [{"field": "s", "order": "ascending"}]}, {"filter": "isValid(datum.s2)"}],
          "mark": {"type": "rule", "strokeWidth": 1, "strokeCap": "round"},
          "encoding": {
            "x": {"field": "s", "type": "quantitative", "title": "Training steps (k)", "scale": {"domain": [4.4, 149.3], "nice": false, "zero": false}, "axis": {"values": [20, 40, 60, 80, 100, 120, 140]}},
            "x2": {"field": "s2"},
            "y": {"field": "p", "type": "quantitative", "title": "Wikitext word ppl", "scale": {"domain": [51.15, 58.1], "nice": false, "zero": false}, "axis": {"values": [52, 53, 54, 55, 56, 57, 58]}},
            "y2": {"field": "p2"},
            "color": {"field": "a", "type": "quantitative", "title": "Last-layer anisotropy", "scale": {"scheme": "viridis", "domain": [0, 1]}, "legend": null}
          }
        }
      ]
    },
    {
      "spacing": 35,
      "bounds": "flush",
      "resolve": {"legend": {"color": "independent"}},
      "hconcat": [
        {
          "width": 93, "height": 10,
          "data": {"values": [{"z": 0}]},
          "mark": {"type": "point", "opacity": 0},
          "view": {"stroke": null}
        },
        {
          "width": 182, "height": 127,
          "title": {"text": "(d) 160M", "dx": -12},
          "data": {"name": "D"},
          "transform": [{"window": [{"op": "lead", "field": "s", "as": "s2"}, {"op": "lead", "field": "p", "as": "p2"}], "sort": [{"field": "s", "order": "ascending"}]}, {"filter": "isValid(datum.s2)"}],
          "mark": {"type": "rule", "strokeWidth": 1, "strokeCap": "round"},
          "encoding": {
            "x": {"field": "s", "type": "quantitative", "title": "Training steps (k)", "scale": {"domain": [4.1, 149.3], "nice": false, "zero": false}, "axis": {"values": [20, 40, 60, 80, 100, 120, 140]}},
            "x2": {"field": "s2"},
            "y": {"field": "p", "type": "quantitative", "title": "Wikitext word ppl", "scale": {"domain": [30.1, 38.47], "nice": false, "zero": false}, "axis": {"values": [31, 32, 33, 34, 35, 36, 37, 38]}},
            "y2": {"field": "p2"},
            "color": {"field": "a", "type": "quantitative", "title": "Last-layer anisotropy", "scale": {"scheme": "viridis", "domain": [0, 1]}, "legend": null}
          }
        },
        {
          "width": 148, "height": 127,
          "title": {"text": "(e) 410M", "dx": 4},
          "data": {"name": "E"},
          "transform": [{"window": [{"op": "lead", "field": "s", "as": "s2"}, {"op": "lead", "field": "p", "as": "p2"}], "sort": [{"field": "s", "order": "ascending"}]}, {"filter": "isValid(datum.s2)"}],
          "mark": {"type": "rule", "strokeWidth": 1, "strokeCap": "round"},
          "encoding": {
            "x": {"field": "s", "type": "quantitative", "title": "Training steps (k)", "scale": {"domain": [5.2, 146], "nice": false, "zero": false}, "axis": {"values": [25, 50, 75, 100, 125]}},
            "x2": {"field": "s2"},
            "y": {"field": "p", "type": "quantitative", "title": "Wikitext word ppl", "scale": {"domain": [19.6, 28.9], "nice": false, "zero": false}, "axis": {"values": [20, 22, 24, 26, 28]}},
            "y2": {"field": "p2"},
            "color": {"field": "a", "type": "quantitative", "title": "Last-layer anisotropy", "scale": {"scheme": "viridis", "domain": [0, 1]}, "legend": {"orient": "none", "legendX": 134, "legendY": 0, "values": [0, 0.2, 0.4, 0.6, 0.8, 1.0], "format": ".1f"}}
          }
        }
      ]
    }
  ]
}
